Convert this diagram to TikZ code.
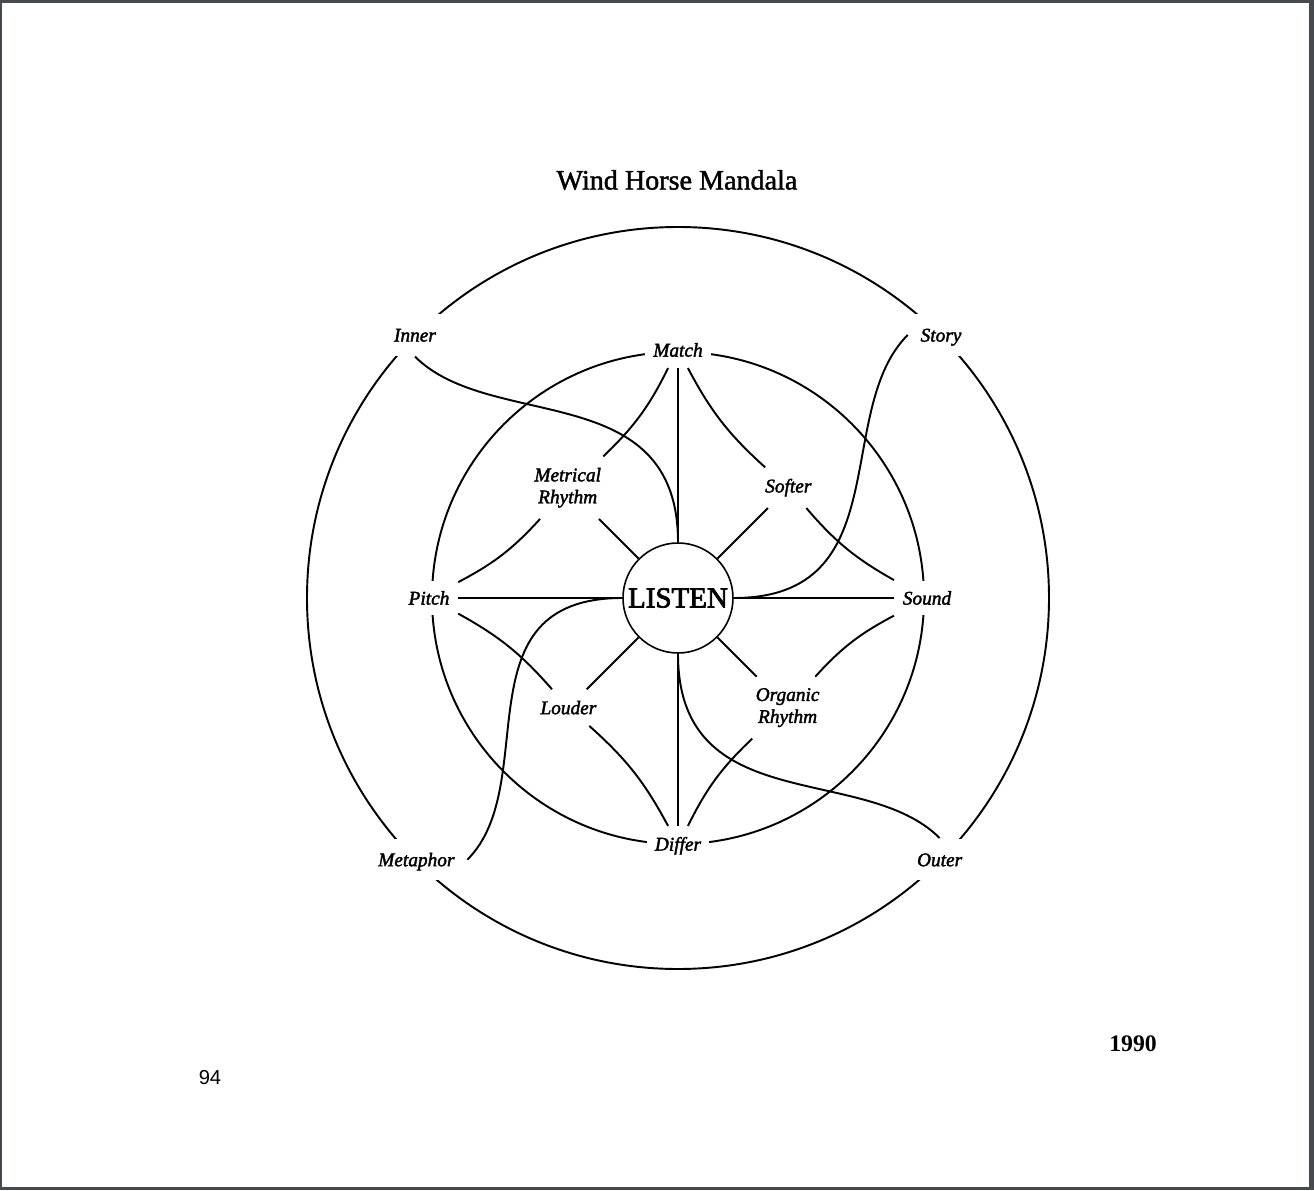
\documentclass[tikz,border=0pt]{standalone}
\usepackage{fontspec}
\setmainfont{Liberation Serif}
\setsansfont{Liberation Sans}
\usetikzlibrary{shapes,positioning}
\definecolor{framegray}{HTML}{46494D}
\newcommand{\wordfont}{\fontsize{11}{12.5}\selectfont\itshape\addfontfeature{FakeBold=2}}

\begin{document}
\begin{tikzpicture}[x=0.02cm, y=0.02cm, line width=1.1pt]
    \tikzstyle{outerword} = [fill=white, font=\wordfont, text height=7.5pt, text depth=0pt, inner xsep=6.8pt, inner ysep=8pt]
    \tikzstyle{innerword} = [fill=white, font=\wordfont, text height=7.5pt, text depth=0pt, inner xsep=4.5pt, inner ysep=6pt]
    \tikzstyle{midword} = [font=\wordfont, align=center, inner sep=6pt]
    \tikzstyle{hub} = [circle, draw, fill=white, minimum size=2.2cm, inner sep=0pt, line width=0.9pt, font=\fontsize{16.5}{18}\selectfont\addfontfeature{FakeBold=2.5}]
    \tikzstyle{curl} = [line width=1.1pt]

    \fill [framegray] (-678,-592) rectangle (636,598);
    \fill [white] (-676,-589) rectangle (631,595);

    \draw (0,0) circle [radius=371];
    \draw (0,0) circle [radius=246];

    \node [hub] (listen) at (0,0) {LISTEN};

    \node [outerword] (inner) at (135:372) {Inner};
    \node [outerword] (story) at (45:372) {Story};
    \node [outerword] (metaphor) at (225:370) {Metaphor};
    \node [outerword] (outer) at (-45:370) {Outer};

    \node [innerword] (match) at (90:248) {Match};
    \node [innerword] (pitch) at (180:249) {Pitch};
    \node [innerword] (sound) at (0:249) {Sound};
    \node [innerword] (differ) at (-90:246) {Differ};

    \node [midword] (metrical) at (135:156) {Metrical\\Rhythm};
    \node [midword] (softer) at (45:156) {Softer};
    \node [midword] (louder) at (225:155) {Louder};
    \node [midword] (organic) at (-45:155) {Organic\\Rhythm};

    \node (title) at (-1,418) {\fontsize{16}{19}\selectfont\addfontfeature{FakeBold=1.5}Wind Horse Mandala};
    \node (year) at (455,-446) {\fontsize{13.5}{16}\selectfont\bfseries 1990};
    \node (page) at (-468,-480) {\sffamily\fontsize{11.5}{13}\selectfont 94};

    \draw (listen) -- (match);
    \draw (listen) -- (pitch);
    \draw (listen) -- (sound);
    \draw (listen) -- (differ);
    \draw (listen) -- (metrical);
    \draw (listen) -- (softer);
    \draw (listen) -- (louder);
    \draw (listen) -- (organic);

    \draw (match) to [bend left=10] (metrical);
    \draw (match) to [bend right=10] (softer);
    \draw (pitch) to [bend right=10] (metrical);
    \draw (pitch) to [bend left=10] (louder);
    \draw (sound) to [bend left=10] (softer);
    \draw (sound) to [bend right=10] (organic);
    \draw (differ) to [bend right=10] (louder);
    \draw (differ) to [bend left=10] (organic);

    \draw [curl] (inner.south) .. controls +(-45:107) and +(90:165) .. (listen.north);
    \draw [curl] (story.west) .. controls +(-135:107) and +(0:165) .. (listen.east);
    \draw [curl] (outer.north) .. controls +(135:107) and +(-90:165) .. (listen.south);
    \draw [curl] (metaphor.east) .. controls +(45:107) and +(180:165) .. (listen.west);
\end{tikzpicture}
\end{document}
